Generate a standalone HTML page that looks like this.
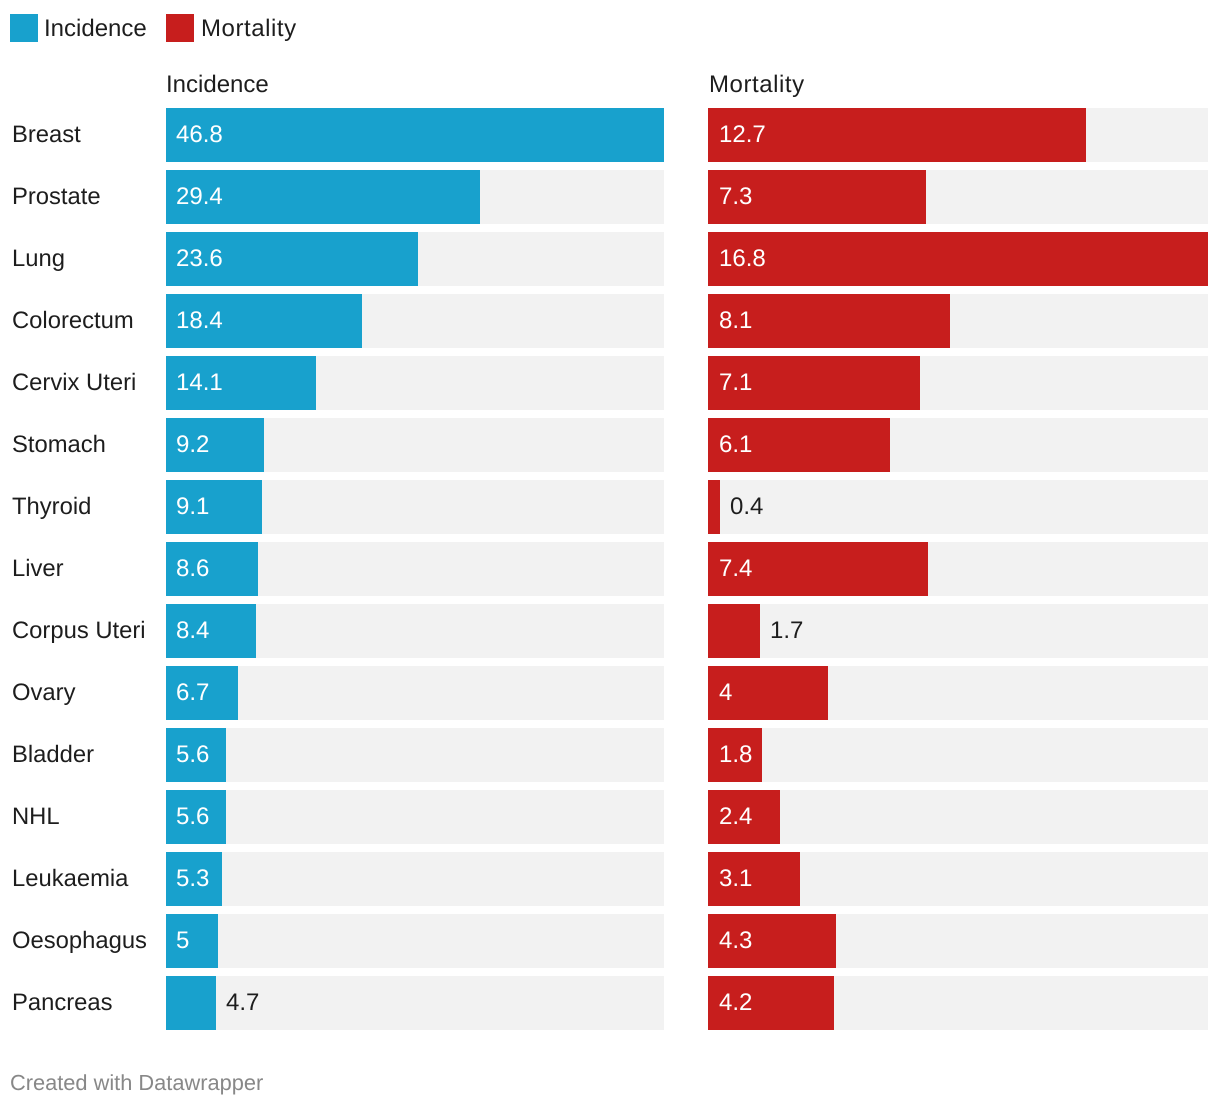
<!DOCTYPE html>
<html>
<head>
<meta charset="utf-8">
<title>Cancer incidence and mortality</title>
<style>
html,body{margin:0;padding:0;background:#fff;}
svg{display:block;font-family:"Liberation Sans",sans-serif;text-rendering:geometricPrecision;}
text{font-size:24px;fill:#1d1d1d;}
</style>
</head>
<body>
<svg id="chart" width="1220" height="1106" viewBox="0 0 1220 1106" xmlns="http://www.w3.org/2000/svg">
  <rect x="10" y="14" width="28" height="28" fill="#18a1cd"/>
  <text x="44" y="36">Incidence</text>
  <rect x="166" y="14" width="28" height="28" fill="#c71e1d"/>
  <text x="201" y="36" style="letter-spacing:0.55px">Mortality</text>
  <text x="166" y="92">Incidence</text>
  <text x="709" y="92" style="letter-spacing:0.55px">Mortality</text>
  <g id="rows"></g>
  <text x="10" y="1090" style="font-size:21.8px;fill:#888888">Created with Datawrapper</text>
</svg>
<script>
const categories = ["Breast","Prostate","Lung","Colorectum","Cervix Uteri","Stomach","Thyroid","Liver","Corpus Uteri","Ovary","Bladder","NHL","Leukaemia","Oesophagus","Pancreas"];
const incidence = [46.8,29.44,23.6,18.4,14.1,9.2,9.1,8.6,8.4,6.7,5.6,5.6,5.3,4.96,4.7];
const mortality = [12.7,7.3,16.8,8.1,7.1,6.1,0.4,7.4,1.74,4,1.8,2.4,3.1,4.3,4.2];

const svgNS = "http://www.w3.org/2000/svg";
const rows = document.getElementById("rows");
const rowTop = i => 108 + 62 * i;
const rowHeight = 54;
const columnWidth = { incidence: 498, mortality: 500 };
const columnX = { incidence: 166, mortality: 708 };
const columnColor = { incidence: "#18a1cd", mortality: "#c71e1d" };
const columnPad = { incidence: 10, mortality: 11 };

function xScale(values, key) {
  const max = Math.max.apply(null, values);
  return v => Math.round((v / max) * columnWidth[key] / 2) * 2;
}

function makeRect(x, y, w, h, fill) {
  const r = document.createElementNS(svgNS, "rect");
  r.setAttribute("x", x);
  r.setAttribute("y", y);
  r.setAttribute("width", w);
  r.setAttribute("height", h);
  r.setAttribute("fill", fill);
  return r;
}

function makeText(x, y, str, fill) {
  const t = document.createElementNS(svgNS, "text");
  t.setAttribute("x", x);
  t.setAttribute("y", y);
  t.style.fill = fill;
  t.textContent = str;
  return t;
}

categories.forEach(function (name, i) {
  const label = makeText(12, rowTop(i) + 34, name, "#1d1d1d");
  label.style.fontSize = "23.8px";
  
  
  rows.appendChild(label);
});

function drawColumn(values, key) {
  const scale = xScale(values, key);
  values.forEach(function (v, i) {
    const x0 = columnX[key];
    const y = rowTop(i);
    const track = makeRect(x0, y, columnWidth[key], rowHeight, "#f2f2f2");
    
    
    rows.appendChild(track);

    const w = scale(v);
    const bar = makeRect(x0, y, w, rowHeight, columnColor[key]);
    
    
    rows.appendChild(bar);

    const str = String(Number(v.toFixed(1)));
    const inside = str.length * 11 + 20 <= w;
    const tx = inside ? x0 + columnPad[key] : x0 + w + 10;
    const value = makeText(tx, y + 34, str, inside ? "#ffffff" : "#1d1d1d");
    
    
    rows.appendChild(value);
  });
}

drawColumn(incidence, "incidence");
drawColumn(mortality, "mortality");
</script>
</body>
</html>
